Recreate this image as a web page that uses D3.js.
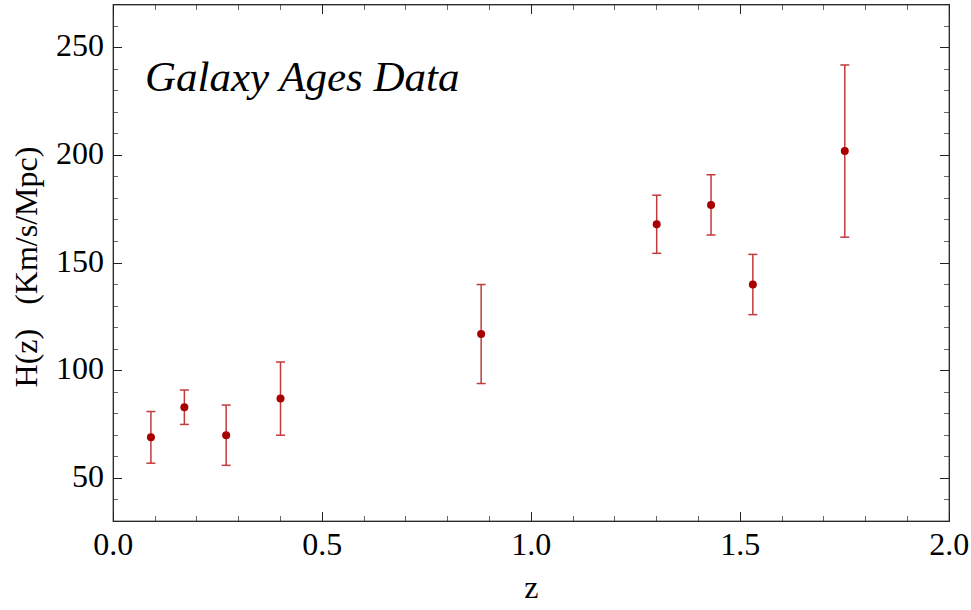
<!DOCTYPE html>
<html>
<head>
<meta charset="utf-8">
<script src="https://cdn.jsdelivr.net/npm/d3@7"></script>
<style>
  html, body { margin: 0; padding: 0; background: #fff; }
  svg { display: block; }
  text { font-family: "Liberation Serif", "DejaVu Serif", serif; fill: #000; }
</style>
</head>
<body>
<svg id="chart" width="971" height="610"></svg>
<script>
// Hubble parameter measurements from galaxy ages
const redshift = [0.09, 0.17, 0.27, 0.40, 0.88, 1.30, 1.43, 1.53, 1.75];
const hubble   = [69, 83, 70, 87, 117, 168, 177, 140, 202];
const hubbleErr = [12, 8, 14, 17, 23, 13.5, 14, 14, 40];

const xTicks = [0.0, 0.5, 1.0, 1.5, 2.0];
const yTicks = [50, 100, 150, 200, 250];

const W = 971, H = 610;
const margin = { left: 113.3, right: W - 949.3, top: 4.7, bottom: H - 521.3 };

const svg = d3.select("#chart");
const x = d3.scaleLinear().domain([0, 2]).range([margin.left, W - margin.right]);
const y = d3.scaleLinear().domain([30, 270]).range([H - margin.bottom, margin.top]);

const x0 = x.range()[0], x1 = x.range()[1];
const y0 = y.range()[0], y1 = y.range()[1];

// Minor and major ticks on all four sides, pointing inward
const xMinor = d3.range(0, 2.0001, 0.1).map(v => +v.toFixed(2));
const yMinor = d3.range(30, 270.001, 10);
const isXMajor = v => xTicks.some(t => Math.abs(t - v) < 1e-6);
const isYMajor = v => yTicks.some(t => Math.abs(t - v) < 1e-6);

const ticks = svg.append("g").attr("shape-rendering", "crispEdges");
xMinor.forEach(v => {
  const len = isXMajor(v) ? 9 : 5;
  const col = isXMajor(v) ? "#222" : "#666";
  ticks.append("line").attr("x1", x(v)).attr("x2", x(v)).attr("y1", y0).attr("y2", y0 - len)
    .attr("stroke", col).attr("stroke-width", 1);
  ticks.append("line").attr("x1", x(v)).attr("x2", x(v)).attr("y1", y1).attr("y2", y1 + len)
    .attr("stroke", col).attr("stroke-width", 1);
});
yMinor.forEach(v => {
  const len = isYMajor(v) ? 9 : 5;
  const col = isYMajor(v) ? "#222" : "#666";
  ticks.append("line").attr("y1", y(v)).attr("y2", y(v)).attr("x1", x0).attr("x2", x0 + len)
    .attr("stroke", col).attr("stroke-width", 1);
  ticks.append("line").attr("y1", y(v)).attr("y2", y(v)).attr("x1", x1).attr("x2", x1 - len)
    .attr("stroke", col).attr("stroke-width", 1);
});

// Frame
svg.append("rect")
  .attr("x", x0).attr("y", y1).attr("width", x1 - x0).attr("height", y0 - y1)
  .attr("fill", "none").attr("stroke", "#222").attr("stroke-width", 1.3);

// Tick labels
svg.append("g").selectAll("text").data(xTicks).join("text")
  .attr("x", d => x(d)).attr("y", y0 + 34)
  .attr("text-anchor", "middle").attr("font-size", 32)
  .text(d => d.toFixed(1));

svg.append("g").selectAll("text").data(yTicks).join("text")
  .attr("x", x0 - 9.3).attr("y", d => y(d) + 8.5)
  .attr("text-anchor", "end").attr("font-size", 32)
  .text(d => d);

// Axis titles
svg.append("text")
  .attr("x", (x0 + x1) / 2).attr("y", 598)
  .attr("text-anchor", "middle").attr("font-size", 32)
  .text("z");

svg.append("text")
  .attr("transform", "translate(37, 267) rotate(-90)")
  .attr("text-anchor", "middle").attr("font-size", 32)
  .attr("xml:space", "preserve")
  .text("H(z)   (Km/s/Mpc)");

// Inset title
svg.append("text")
  .attr("x", 145).attr("y", 91)
  .attr("font-size", 43).attr("font-style", "italic")
  .text("Galaxy Ages Data");

// Error bars with caps
const pts = redshift.map((z, i) => ({ z, h: hubble[i], e: hubbleErr[i] }));
const bars = svg.append("g").attr("stroke", "#c23b3b").attr("stroke-width", 1.5);
pts.forEach(d => {
  bars.append("line").attr("x1", x(d.z)).attr("x2", x(d.z))
    .attr("y1", y(d.h - d.e)).attr("y2", y(d.h + d.e));
  [d.h - d.e, d.h + d.e].forEach(v => {
    bars.append("line").attr("x1", x(d.z) - 4.5).attr("x2", x(d.z) + 4.5)
      .attr("y1", y(v)).attr("y2", y(v));
  });
});

// Data points
svg.append("g").selectAll("circle").data(pts).join("circle")
  .attr("cx", d => x(d.z)).attr("cy", d => y(d.h)).attr("r", 4)
  .attr("fill", "#a80000");
</script>
</body>
</html>
